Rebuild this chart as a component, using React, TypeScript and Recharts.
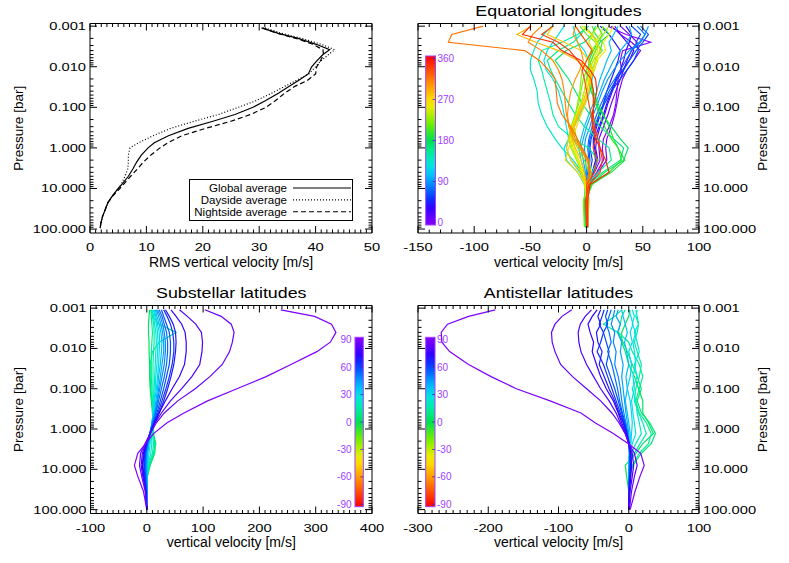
import React from 'react'
import { ScatterChart, Scatter, XAxis, YAxis, ReferenceArea, Legend, Customized } from 'recharts'

const FONT = '"Liberation Sans", Arial, Helvetica, sans-serif'
const BAR_TEXT = '#a040ff'

// pressure axis [bar], drawn top (low p) to bottom (high p)
const P_DOMAIN: [number, number] = [0.00086, 125]
const P_TICKS = [0.001, 0.01, 0.1, 1, 10, 100]

// --- RMS vertical velocity (top left)
const RMS_P = [0.0011, 0.0015, 0.002, 0.0028, 0.0038, 0.005, 0.0075, 0.01, 0.015, 0.022, 0.03, 0.045, 0.07, 0.1, 0.15, 0.22, 0.33, 0.5, 0.75, 1, 1.5, 2.2, 3.3, 5, 7.5, 10, 15, 22, 33, 50, 75, 95]
const RMS_GLOBAL = [30.4, 33.4, 36.9, 40.1, 42.5, 41.3, 40.1, 39.3, 38.7, 36.9, 35.4, 33.4, 31.0, 28.9, 25.7, 21.8, 17.4, 13.9, 11.4, 10.3, 9.1, 8.3, 7.6, 6.8, 5.8, 5.0, 4.0, 3.2, 2.7, 2.2, 1.9, 1.8]
const RMS_DAYSIDE = [31.0, 34.0, 37.5, 41.0, 43.4, 42.3, 40.8, 40.0, 38.8, 36.5, 34.6, 32.2, 29.3, 26.3, 22.8, 18.5, 14.3, 11.2, 8.6, 7.1, 6.8, 6.8, 6.7, 6.2, 5.6, 5.0, 4.0, 3.2, 2.7, 2.2, 1.9, 1.8]
const RMS_NIGHTSIDE = [30.6, 33.2, 36.5, 39.5, 41.3, 41.4, 40.8, 40.2, 40.0, 38.5, 36.4, 34.5, 32.8, 31.2, 28.5, 25.0, 20.5, 16.3, 13.8, 12.4, 10.8, 9.5, 8.4, 7.2, 6.1, 5.3, 4.1, 3.2, 2.7, 2.2, 1.9, 1.8]
const RMS_NAMES = ['Global average', 'Dayside average', 'Nightside average']
const RMS_DASHES = ['', '1 2', '5 3']
const RMS_X_TICKS = [0, 10, 20, 30, 40, 50]

// --- equatorial longitudes (top right)
const EQ_P = [0.001, 0.0016, 0.0025, 0.004, 0.007, 0.012, 0.02, 0.04, 0.08, 0.15, 0.3, 0.6, 1, 2, 4, 8, 20, 90]
const EQ_LON = [0, 7.5, 15, 30, 37.5, 45, 60, 67.5, 75, 90, 97.5, 105, 120, 127.5, 135, 150, 157.5, 165, 180, 187.5, 195, 210, 217.5, 225, 240, 247.5, 255, 270, 277.5, 285, 300, 307.5, 315, 330, 337.5, 345]
const EQ_W = [
  [19, 35, 57, 32, 30, 31, 28, 27, 26, 24, 20, 15, 14, 15, 9, 2, 0, 0],
  [25, 30, 40, 48, 42, 36, 32, 29, 27, 25, 22, 18, 17, 18, 10, 2, 1, 1],
  [30, 38, 45, 40, 36, 33, 30, 26, 22, 19, 15, 11, 11, 12, 7, 1, 0, 0],
  [22, 30, 36, 42, 38, 32, 27, 23, 19, 16, 12, 9, 8, 10, 6, 1, 0, 0],
  [35, 40, 38, 35, 33, 30, 26, 22, 18, 15, 11, 7, 7, 9, 5, 1, -1, 0],
  [12, 20, 25, 30, 28, 25, 22, 18, 15, 12, 9, 6, 6, 8, 5, 0, 0, 0],
  [40, 48, 44, 46, 42, 36, 30, 22, 16, 12, 8, 4, 3, 5, 3, 0, 0, 0],
  [48, 55, 50, 44, 38, 33, 27, 20, 15, 11, 7, 3, 2, 3, 2, 0, -1, -1],
  [45, 52, 48, 40, 35, 30, 25, 18, 13, 9, 5, 2, 1, 2, 1, -1, 0, 0],
  [55, 52, 47, 38, 30, 24, 19, 14, 10, 6, 3, -1, -2, -1, 0, -1, 0, 0],
  [38, 40, 36, 30, 24, 20, 16, 12, 8, 4, 0, -3, -5, -3, -1, -1, -2, -1],
  [28, 24, 20, 22, 18, 15, 12, 9, 6, 2, -2, -5, -7, -5, -2, -1, 0, 0],
  [-12, -10, -8, -2, 2, 6, 5, 3, -1, -6, -11, -16, -20, -18, -8, -2, 0, 0],
  [-20, -25, -30, -35, -38, -36, -30, -25, -22, -20, -18, -16, -18, -14, -6, -1, -2, -1],
  [-31, -38, -44, -47, -50, -50, -47, -44, -43, -40, -35, -28, -22, -12, -4, -1, 0, 0],
  [2, -8, -22, -40, -43, -40, -38, -35, -32, -30, -25, -12, 2, 10, 5, 1, 0, 0],
  [0, -5, -12, -25, -35, -32, -28, -22, -16, -10, -2, 10, 20, 22, 10, 1, 2, 1],
  [8, 5, -2, -18, -28, -22, -16, -10, -4, 3, 12, 24, 33, 30, 14, 2, 0, 0],
  [14, 20, 12, 8, 4, 0, 1, 4, 8, 14, 22, 30, 37, 33, 16, 4, 0, 0],
  [10, 14, 10, 6, 2, 2, 4, 6, 10, 15, 20, 24, 28, 34, 22, 4, -2, -1],
  [5, 8, 14, 12, 8, 5, 3, 5, 8, 11, 16, 22, 28, 31, 20, 5, -1, 0],
  [-6, 0, 8, 14, 6, 2, 0, -2, -5, -8, -11, -9, -4, 2, 4, 1, 0, 0],
  [-2, 5, 10, 8, 4, 0, -3, -5, -7, -10, -13, -12, -8, -2, 2, 1, -3, -2],
  [20, 15, 10, 4, 0, -4, -5, -6, -8, -10, -14, -16, -14, -9, -4, 0, 0, 0],
  [10, 5, 2, 6, 10, 7, 3, 0, -3, -8, -12, -15, -13, -8, -5, -2, 0, 0],
  [15, 12, 8, 10, 6, 3, 1, -2, -5, -9, -13, -14, -12, -7, -4, -1, 1, 0],
  [24, 20, 15, 17, 9, 5, 2, 0, -3, -7, -11, -13, -11, -7, -3, 0, 0, 0],
  [-4, 4, 9, 12, 8, 6, 4, 2, -1, -5, -9, -12, -16, -19, -8, -1, 0, 0],
  [-30, -35, -20, -5, 2, 5, 3, 0, -4, -8, -12, -16, -18, -14, -5, 0, 2, 1],
  [-49, -62, -45, -25, -8, 2, 4, 2, -2, -7, -11, -13, -10, -5, -2, 0, 0, 0],
  [-10, -12, -8, -5, -3, -6, -10, -14, -16, -17, -16, -12, -6, 0, 4, 2, 0, 0],
  [-40, -48, -52, -40, -30, -25, -22, -20, -19, -18, -15, -10, -5, 1, 3, 1, 1, 0],
  [-92, -120, -123, -55, -42, -34, -28, -27, -26, -22, -14, -8, -4, 2, 2, 0, 0, 0],
  [-10, -5, 0, 5, 0, -4, -2, 0, 2, 4, 6, 8, 6, 9, 7, 0, 0, 0],
  [-30, -40, -25, -15, -8, -2, 4, 6, 6, 6, 7, 10, 12, 14, 12, 2, -1, 0],
  [-50, -57, -30, -22, -5, 3, 8, 9, 7, 5, 5, 8, 12, 17, 20, 3, 1, 1],
]
const EQ_X_TICKS = [-150, -100, -50, 0, 50, 100]
const EQ_BAR_TICKS = [0, 90, 180, 270, 360]

// --- substellar / antistellar latitudes (bottom)
const LAT_P = [0.0011, 0.0016, 0.0025, 0.004, 0.007, 0.012, 0.025, 0.05, 0.1, 0.2, 0.4, 0.7, 1.3, 2.3, 4, 8, 15, 35, 100]
const LATITUDES = [2.5, 7.5, 12.5, 17.5, 22.5, 27.5, 32.5, 37.5, 42.5, 47.5, 52.5, 57.5, 62.5, 67.5, 72.5, 77.5, 82.5, 87.5]
const SUB_W = [
  [5, 4, 3, 3, 4, 4, 5, 5, 6, 8, 10, 11, 11, 15, 14, 6, 1, 0, 0],
  [8, 10, 22, 52, 22, 10, 6, 6, 7, 9, 11, 12, 12, 16, 13, 5, 1, 0, 0],
  [7, 8, 9, 10, 9, 8, 8, 8, 9, 10, 12, 12, 11, 14, 12, 4, 1, 0, 0],
  [9, 10, 12, 13, 13, 12, 11, 11, 11, 12, 12, 12, 10, 12, 10, 3, 0, 0, 0],
  [10, 12, 14, 16, 17, 16, 15, 14, 13, 12, 11, 10, 8, 9, 7, 2, 0, 0, 0],
  [12, 14, 17, 19, 20, 19, 18, 16, 15, 13, 11, 9, 7, 6, 4, 1, 0, 0, 0],
  [13, 16, 19, 22, 23, 22, 21, 19, 17, 14, 12, 9, 6, 4, 2, 1, 0, 0, 0],
  [15, 18, 22, 25, 27, 26, 24, 21, 19, 16, 13, 9, 6, 3, 1, 0, 0, 0, 0],
  [17, 21, 25, 28, 30, 30, 27, 24, 21, 18, 14, 10, 6, 3, 0, -1, 0, 0, 0],
  [19, 24, 28, 31, 33, 33, 31, 27, 23, 19, 15, 10, 5, 2, -1, -2, -1, 0, 0],
  [22, 27, 31, 35, 37, 37, 35, 31, 26, 21, 16, 11, 5, 1, -2, -3, -2, 0, 0],
  [26, 30, 35, 40, 42, 42, 40, 35, 30, 24, 18, 12, 5, 0, -3, -4, -3, -1, 0],
  [30, 36, 42, 46, 48, 48, 45, 40, 34, 27, 20, 13, 6, 0, -4, -5, -4, -1, 0],
  [33, 40, 47, 51, 52, 51, 48, 43, 37, 30, 22, 14, 6, -1, -5, -7, -5, -2, 0],
  [43, 52, 62, 68, 70, 70, 67, 58, 45, 33, 22, 14, 6, -1, -6, -8, -6, -2, 0],
  [58, 72, 87, 97, 99, 98, 94, 80, 62, 42, 26, 15, 6, -2, -8, -10, -7, -2, 0],
  [103, 132, 150, 155, 152, 147, 134, 112, 86, 55, 31, 17, 6, -3, -11, -13, -9, -3, 0],
  [238, 298, 328, 336, 326, 302, 256, 212, 160, 108, 66, 36, 12, -2, -16, -22, -16, -6, 0],
]
const ANTI_W = [
  [2, 0, -5, -10, -10, -5, 0, 8, 14, 20, 20, 28, 35, 20, 10, -5, -3, 0, 0],
  [-5, -10, -12, -15, -8, -2, 5, 12, 18, 12, 18, 30, 38, 32, 18, 6, 1, 0, 0],
  [-10, -20, -36, -15, 0, 5, 15, 20, 15, 10, 15, 25, 32, 28, 15, 5, 1, 0, 0],
  [12, 10, 14, 12, 8, 12, 18, 15, 10, 8, 14, 20, 25, 16, 8, 2, 0, 0, 0],
  [10, 12, 14, 8, 12, 15, 8, 12, 5, 10, 12, 15, 18, 10, 4, 1, 0, 0, 0],
  [5, 8, 5, 10, 6, 8, 10, 6, 8, 4, 6, 8, 10, 5, 2, 0, 0, 0, 0],
  [0, 3, 6, 2, 5, 0, 4, 2, -2, 2, 4, 5, 4, 3, 1, 0, 0, 0, 0],
  [-10, -8, -5, -2, -6, -3, 0, -4, -2, -5, -2, 0, 2, 2, 1, 0, 0, 0, 0],
  [-15, -18, -12, -16, -10, -12, -8, -10, -8, -6, -4, -2, 0, 1, 1, 1, 0, 0, 0],
  [-20, -22, -25, -20, -22, -18, -20, -15, -12, -10, -7, -4, -1, 0, 1, 1, 1, 0, 0],
  [-25, -28, -32, -28, -25, -30, -24, -20, -16, -13, -9, -5, -2, 0, 1, 2, 1, 0, 0],
  [-30, -33, -30, -36, -32, -28, -32, -26, -20, -15, -10, -6, -2, 0, 2, 2, 1, 0, 0],
  [-35, -38, -42, -36, -40, -45, -36, -30, -24, -18, -12, -7, -3, 0, 2, 3, 2, 0, 0],
  [-40, -44, -40, -46, -44, -38, -42, -35, -28, -20, -14, -8, -3, 1, 3, 3, 2, 1, 0],
  [-45, -52, -58, -55, -50, -52, -46, -40, -32, -22, -15, -10, -4, 0, 3, 4, 3, 1, 0],
  [-53, -62, -69, -72, -71, -68, -60, -50, -40, -28, -18, -12, -5, 0, 5, 7, 5, 2, 0],
  [-81, -95, -105, -110, -109, -105, -97, -80, -60, -40, -24, -14, -5, 0, 8, 12, 8, 4, 1],
  [-190, -228, -258, -267, -266, -255, -228, -196, -160, -112, -68, -48, -22, -1, 17, 22, 16, 9, 2],
]
const SUB_X_TICKS = [-100, 0, 100, 200, 300, 400]
const ANTI_X_TICKS = [-300, -200, -100, 0, 100]
const LAT_BAR_TICKS = [-90, -60, -30, 0, 30, 60, 90]

// IDL-like rainbow colour table
const RAINBOW: [number, number[]][] = [
  [0, [138, 0, 255]],
  [0.1, [48, 0, 255]],
  [0.17, [0, 64, 255]],
  [0.25, [0, 152, 255]],
  [0.33, [0, 224, 240]],
  [0.42, [0, 240, 160]],
  [0.5, [0, 224, 80]],
  [0.6, [112, 240, 0]],
  [0.72, [255, 238, 0]],
  [0.86, [255, 128, 0]],
  [1, [255, 0, 0]],
]

function rainbow(f: number) {
  const t = Math.min(1, Math.max(0, f))
  for (let i = 1; i < RAINBOW.length; i++) {
    const [f0, c0] = RAINBOW[i - 1]
    const [f1, c1] = RAINBOW[i]
    if (t <= f1) {
      const k = (t - f0) / (f1 - f0)
      const c = c0.map((a, j) => Math.round(a + (c1[j] - a) * k))
      return `rgb(${c.join(',')})`
    }
  }
  return 'rgb(255,0,0)'
}

const lonFrac = (lon: number) => lon / 360
const latFrac = (lat: number) => (90 - lat) / 180

function logMinors(majors: number[]) {
  const out: number[] = []
  for (let i = 0; i < majors.length - 1; i++)
    for (let m = 2; m <= 9; m++) out.push(+(majors[i] * m).toPrecision(6))
  return out
}

function linMinors(majors: number[], step: number) {
  const out: number[] = []
  const hi = majors[majors.length - 1]
  for (let v = majors[0]; v <= hi + 1e-9; v += step) {
    const r = Math.round(v * 1000) / 1000
    if (!majors.includes(r)) out.push(r)
  }
  return out
}

type Pt = { v: number; p: number }
type Curve = { key: string; color: string; dash?: string; width: number; data: Pt[] }

const toPoints = (pressures: number[], values: number[]): Pt[] =>
  values.map((v, i) => ({ v, p: pressures[i] }))

function XTick(props: any) {
  const { x, y, payload, majors, plotH } = props
  const v = payload.value
  const major = majors.includes(v)
  const len = major ? 7 : 3.5
  return (
    <g>
      <line x1={x} y1={y} x2={x} y2={y - len} stroke="#000" />
      <line x1={x} y1={y - plotH} x2={x} y2={y - plotH + len} stroke="#000" />
      {major && (
        <text
          transform={`translate(${x},${y + 18}) scale(1.28,1)`}
          textAnchor="middle"
          fontFamily={FONT}
          fontSize={11.5}
          fill="#000"
        >
          {v}
        </text>
      )}
    </g>
  )
}

function YTick(props: any) {
  const { x, y, payload, majors, plotW, side } = props
  const v = payload.value
  const major = majors.includes(v)
  const len = major ? 7 : 3.5
  const dir = side === 'left' ? 1 : -1
  const far = x + dir * plotW
  return (
    <g>
      <line x1={x} y1={y} x2={x + dir * len} y2={y} stroke="#000" />
      <line x1={far} y1={y} x2={far - dir * len} y2={y} stroke="#000" />
      {major && (
        <text
          transform={`translate(${x - dir * 4},${y + 4}) scale(1.28,1)`}
          textAnchor={side === 'left' ? 'end' : 'start'}
          fontFamily={FONT}
          fontSize={11.5}
          fill="#000"
        >
          {v.toFixed(3)}
        </text>
      )}
    </g>
  )
}

function AxisTitle({ px, py, text, rotate }: { px: number; py: number; text: string; rotate?: boolean }) {
  return (
    <text
      x={px}
      y={py}
      transform={rotate ? `rotate(-90 ${px} ${py})` : undefined}
      textAnchor="middle"
      fontFamily={FONT}
      fontSize={rotate ? 13.5 : 14}
      fill="#000"
    >
      {text}
    </text>
  )
}

function ColorBar(props: any) {
  const { id, x, y, w, h, ticks, vTop, vBottom, toF, labelSide } = props
  const stops = Array.from({ length: 21 }, (_, i) => i / 20)
  const yOf = (v: number) => y + 2.4 + ((vTop - v) / (vTop - vBottom)) * (h - 4.8)
  return (
    <g>
      <defs>
        <linearGradient id={id} x1="0" y1="0" x2="0" y2="1">
          {stops.map((t) => (
            <stop key={t} offset={t} stopColor={rainbow(toF(vTop + (vBottom - vTop) * t))} />
          ))}
        </linearGradient>
      </defs>
      <rect x={x} y={y} width={w} height={h} fill={`url(#${id})`} stroke={BAR_TEXT} strokeWidth={1} />
      {ticks.map((v: number) => (
        <g key={v}>
          <line x1={x + w - 3} x2={x + w} y1={yOf(v)} y2={yOf(v)} stroke="#5a20b0" strokeWidth={0.8} />
          <text
            x={labelSide === 'right' ? x + w + 2 : x - 3.5}
            y={yOf(v) + 3.5}
            textAnchor={labelSide === 'right' ? 'start' : 'end'}
            fontFamily={FONT}
            fontSize={10}
            fill={BAR_TEXT}
          >
            {v}
          </text>
        </g>
      ))}
    </g>
  )
}

function PanelDecor({ title, tx, ty, bar }: any) {
  return (
    <g>
      {title && (
        <text
          transform={`translate(${tx},${ty}) scale(1.15,1)`}
          textAnchor="middle"
          fontFamily={FONT}
          fontSize={15.5}
          fill="#000"
        >
          {title}
        </text>
      )}
      {bar && <ColorBar {...bar} />}
    </g>
  )
}

function RmsLegend() {
  return (
    <svg width={164} height={42} style={{ display: 'block' }}>
      <rect x={0.5} y={0.5} width={163} height={41} fill="#fff" stroke="#000" />
      {RMS_NAMES.map((name, i) => {
        const cy = 9 + i * 11.85
        return (
          <g key={name}>
            <text x={98} y={cy + 4} textAnchor="end" fontFamily={FONT} fontSize={11.5} fill="#000">
              {name}
            </text>
            <line x1={104} x2={162} y1={cy} y2={cy} stroke="#000" strokeWidth={1.1} strokeDasharray={RMS_DASHES[i] || undefined} />
          </g>
        )
      })}
    </svg>
  )
}

type PanelSpec = {
  id: string
  left: number
  top: number
  width: number
  height: number
  plot: [number, number, number, number]
  xDomain: [number, number]
  xMajors: number[]
  xMinorStep: number
  ySide: 'left' | 'right'
  curves: Curve[]
  xTitle: string
  title?: string
  bar?: any
  legend?: boolean
}

function Panel({ spec }: { spec: PanelSpec }) {
  const [x0, y0, x1, y1] = spec.plot
  const plotW = x1 - x0
  const plotH = y1 - y0
  // axes are 1px thick, so subtract them from the margins
  const margin = {
    left: x0 - spec.left - (spec.ySide === 'left' ? 1 : 0),
    top: y0 - spec.top,
    right: spec.left + spec.width - x1 - (spec.ySide === 'right' ? 1 : 0),
    bottom: spec.top + spec.height - y1 - 1,
  }
  const cx = (x0 + x1) / 2 - spec.left
  const cy = (y0 + y1) / 2 - spec.top
  const yTitleX = (spec.ySide === 'left' ? 23.3 : 767) - spec.left
  const xTicks = [...spec.xMajors, ...linMinors(spec.xMajors, spec.xMinorStep)]
  const yTicks = [...P_TICKS, ...logMinors(P_TICKS)]
  const bar = spec.bar
    ? { ...spec.bar, x: spec.bar.x - spec.left, y: spec.bar.y - spec.top }
    : undefined

  return (
    <div style={{ position: 'absolute', left: spec.left, top: spec.top }}>
      <ScatterChart width={spec.width} height={spec.height} margin={margin}>
        <XAxis
          type="number"
          dataKey="v"
          domain={spec.xDomain}
          allowDataOverflow
          ticks={xTicks}
          interval={0}
          height={1}
          tickSize={0}
          tickMargin={0}
          axisLine={false}
          tickLine={false}
          tick={<XTick majors={spec.xMajors} plotH={plotH} />}
          label={<AxisTitle px={cx} py={y1 - spec.top + 33.5} text={spec.xTitle} />}
        />
        <YAxis
          type="number"
          dataKey="p"
          scale="log"
          domain={P_DOMAIN}
          allowDataOverflow
          reversed
          orientation={spec.ySide}
          ticks={yTicks}
          interval={0}
          width={1}
          tickSize={0}
          tickMargin={0}
          axisLine={false}
          tickLine={false}
          tick={<YTick majors={P_TICKS} plotW={plotW} side={spec.ySide} />}
          label={<AxisTitle px={yTitleX} py={cy} text="Pressure [bar]" rotate />}
        />
        <ReferenceArea
          x1={spec.xDomain[0]}
          x2={spec.xDomain[1]}
          y1={P_DOMAIN[0]}
          y2={P_DOMAIN[1]}
          fill="none"
          fillOpacity={0}
          stroke="#000"
          strokeWidth={1}
        />
        {spec.curves.map((c) => (
          <Scatter
            key={c.key}
            name={c.key}
            data={c.data}
            fill={c.color}
            line={{ stroke: c.color, strokeWidth: c.width, strokeDasharray: c.dash }}
            shape={() => <g />}
            legendType="none"
            isAnimationActive={false}
          />
        ))}
        <Customized
          component={
            <PanelDecor
              title={spec.title}
              tx={cx}
              ty={(spec.top === 0 ? 16 : 297.5) - spec.top}
              bar={bar}
            />
          }
        />
        {spec.legend && (
          <Legend
            layout="horizontal"
            verticalAlign="middle"
            align="center"
            wrapperStyle={{ left: 189 - spec.left, top: 179 - spec.top, width: 164, height: 42 }}
            content={<RmsLegend />}
          />
        )}
      </ScatterChart>
    </div>
  )
}

const RMS_CURVES: Curve[] = [
  { key: 'global', color: '#000', width: 1.2, data: toPoints(RMS_P, RMS_GLOBAL) },
  { key: 'dayside', color: '#000', width: 1.2, dash: RMS_DASHES[1], data: toPoints(RMS_P, RMS_DAYSIDE) },
  { key: 'nightside', color: '#000', width: 1.2, dash: RMS_DASHES[2], data: toPoints(RMS_P, RMS_NIGHTSIDE) },
]

const EQ_CURVES: Curve[] = EQ_W.map((vals, i) => ({
  key: `lon${EQ_LON[i]}`,
  color: rainbow(lonFrac(EQ_LON[i])),
  width: 1.15,
  data: toPoints(EQ_P, vals),
}))

const SUB_CURVES: Curve[] = SUB_W.map((vals, i) => ({
  key: `sub${LATITUDES[i]}`,
  color: rainbow(latFrac(LATITUDES[i])),
  width: 1.2,
  data: toPoints(LAT_P, vals),
}))

const ANTI_CURVES: Curve[] = ANTI_W.map((vals, i) => ({
  key: `anti${LATITUDES[i]}`,
  color: rainbow(latFrac(LATITUDES[i])),
  width: 1.2,
  data: toPoints(LAT_P, vals),
}))

const PANELS: PanelSpec[] = [
  {
    id: 'rms', left: 0, top: 0, width: 395, height: 280, plot: [90, 23.5, 372, 233],
    xDomain: [0, 50], xMajors: RMS_X_TICKS, xMinorStep: 1, ySide: 'left',
    curves: RMS_CURVES, xTitle: 'RMS vertical velocity [m/s]', legend: true,
  },
  {
    id: 'eq', left: 395, top: 0, width: 394, height: 280, plot: [418, 23.5, 699, 233],
    xDomain: [-150, 100], xMajors: EQ_X_TICKS, xMinorStep: 10, ySide: 'right',
    curves: EQ_CURVES, xTitle: 'vertical velocity [m/s]', title: 'Equatorial longitudes',
    bar: { id: 'barEq', x: 425.7, y: 56, w: 9.8, h: 169, ticks: EQ_BAR_TICKS, vTop: 360, vBottom: 0, toF: lonFrac, labelSide: 'right' },
  },
  {
    id: 'sub', left: 0, top: 280, width: 395, height: 283, plot: [90.5, 305.5, 372, 513.5],
    xDomain: [-100, 400], xMajors: SUB_X_TICKS, xMinorStep: 10, ySide: 'left',
    curves: SUB_CURVES, xTitle: 'vertical velocity [m/s]', title: 'Substellar latitudes',
    bar: { id: 'barSub', x: 355, y: 337.3, w: 8.3, h: 169.4, ticks: LAT_BAR_TICKS, vTop: 90, vBottom: -90, toF: latFrac, labelSide: 'left' },
  },
  {
    id: 'anti', left: 395, top: 280, width: 394, height: 283, plot: [418, 305.5, 699, 513.5],
    xDomain: [-300, 100], xMajors: ANTI_X_TICKS, xMinorStep: 10, ySide: 'right',
    curves: ANTI_CURVES, xTitle: 'vertical velocity [m/s]', title: 'Antistellar latitudes',
    bar: { id: 'barAnti', x: 425.7, y: 337.3, w: 9.3, h: 169.4, ticks: LAT_BAR_TICKS, vTop: 90, vBottom: -90, toF: latFrac, labelSide: 'right' },
  },
]

export default function App() {
  return (
    <div style={{ position: 'absolute', left: 0, top: 0, width: 789, height: 563, background: '#fff' }}>
      {PANELS.map((spec) => (
        <Panel key={spec.id} spec={spec} />
      ))}
    </div>
  )
}
